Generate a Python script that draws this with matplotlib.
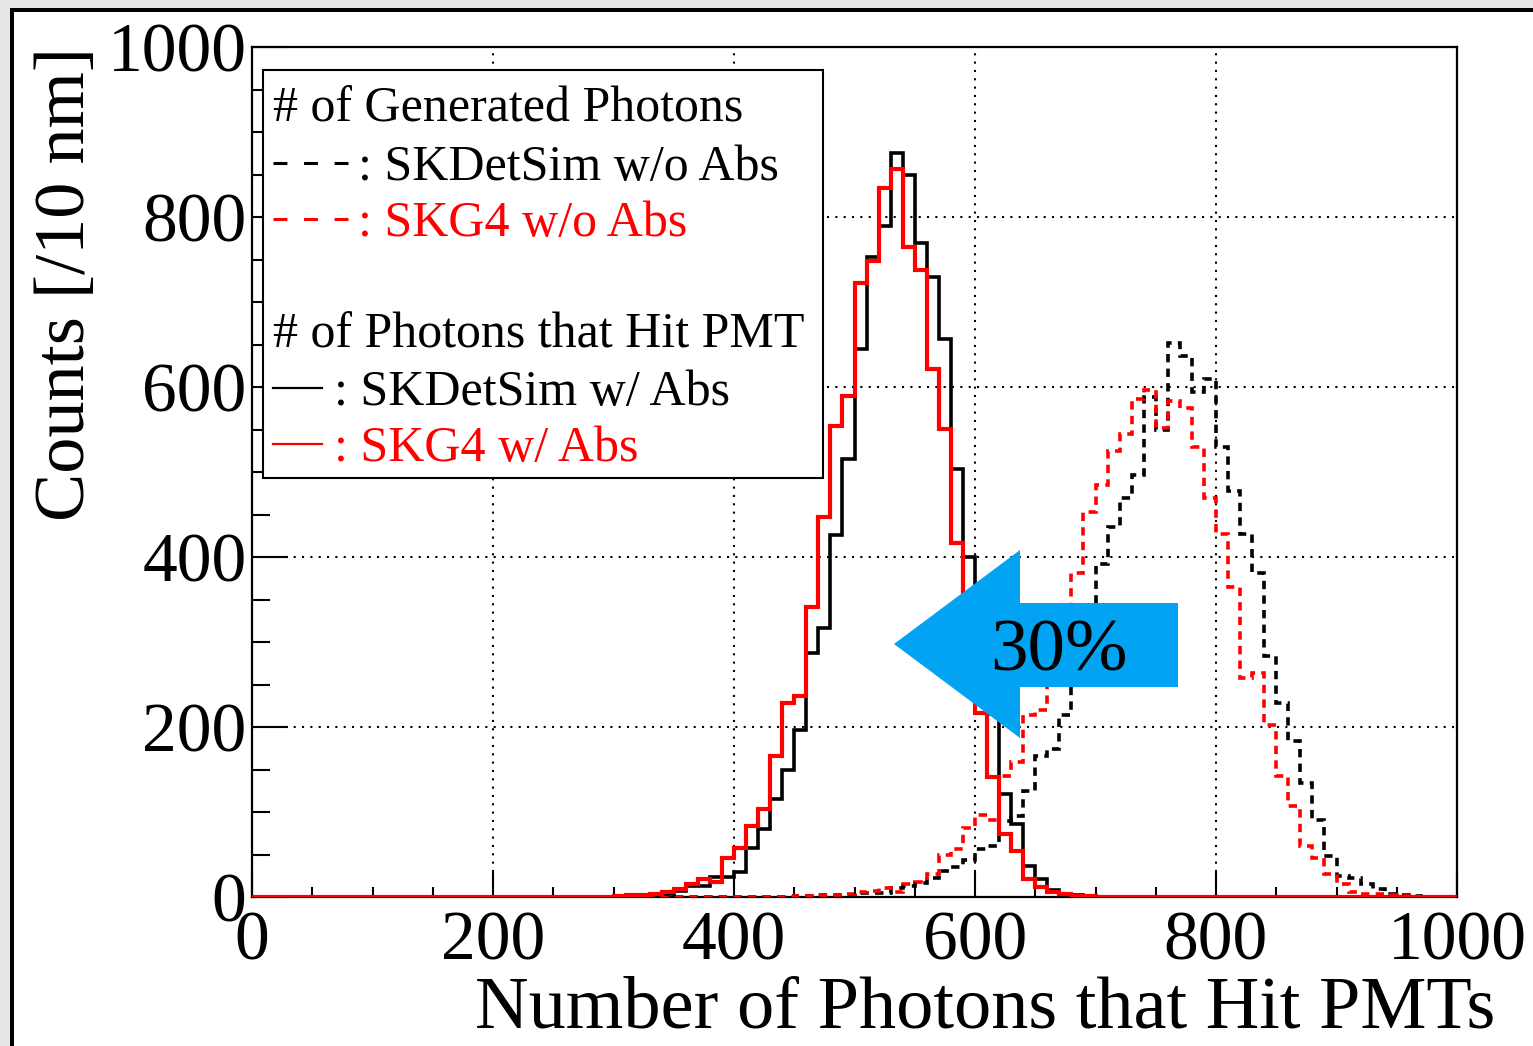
import numpy as np
import matplotlib
matplotlib.use("Agg")
import matplotlib.pyplot as plt
from matplotlib.patches import Rectangle, Polygon
from matplotlib.lines import Line2D

plt.rcParams['font.family'] = ['Liberation Serif', 'DejaVu Serif']
plt.rcParams['lines.scale_dashes'] = False

#### DATA (counts per 10-photon bin, 0..1000) ####
edges = np.arange(0, 1001, 10)

# SKDetSim w/o Abs (generated photons, black dashed)
detsim_noabs = ([0] * 45 +
                [1, 1, 2, 2, 2,
                 5, 5, 5, 11, 13, 17, 22, 31, 35, 43,
                 57, 60, 90, 95, 125, 166, 174, 214, 265, 320,
                 392, 435, 470, 496, 588, 549, 652, 637, 594, 609,
                 529, 478, 427, 381, 283, 228, 183, 134, 91, 48,
                 25, 22, 15, 9, 3, 2, 1] + [0] * 3)

# SKG4 w/o Abs (generated photons, red dashed)
g4_noabs = ([0] * 45 +
            [1, 1, 2, 2, 3,
             6, 7, 11, 6, 15, 18, 27, 49, 57, 81,
             96, 91, 142, 159, 214, 220, 262, 330, 381, 453,
             485, 525, 545, 586, 597, 552, 583, 575, 529, 470,
             427, 365, 258, 263, 202, 142, 107, 60, 46, 27,
             15, 6, 3, 4, 2, 1] + [0] * 4)

# SKDetSim w/ Abs (photons that hit PMT, black solid)
detsim_abs = ([0] * 30 +
              [1, 1, 2, 3, 4, 7, 13, 13, 24, 24,
               29, 58, 80, 115, 150, 197, 287, 316, 426, 515,
               645, 753, 789, 875, 849, 769, 730, 656, 504, 400,
               300, 215, 121, 86, 37, 21, 8, 4, 2, 1] + [0] * 30)

# SKG4 w/ Abs (photons that hit PMT, red solid)
g4_abs = ([0] * 30 +
          [1, 2, 2, 4, 6, 9, 15, 21, 18, 46,
           58, 84, 103, 166, 228, 236, 341, 447, 554, 590,
           722, 748, 834, 857, 765, 738, 621, 551, 416, 300,
           217, 141, 74, 54, 21, 12, 6, 3, 1, 1] + [0] * 30)

xticks = [0, 200, 400, 600, 800, 1000]
yticks = [0, 200, 400, 600, 800, 1000]

#### FIGURE ####
fig = plt.figure(figsize=(15.33, 10.46), dpi=100)
W, H = 1533.0, 1046.0

# screenshot frame: grey margin + black border on top/left
fig.add_artist(Rectangle((0, 1 - 8 / H), 1, 8 / H, transform=fig.transFigure,
                         facecolor='#e6e6e6', edgecolor='none', zorder=0))
fig.add_artist(Rectangle((0, 0), 10 / W, 1, transform=fig.transFigure,
                         facecolor='#e6e6e6', edgecolor='none', zorder=0))
fig.add_artist(Rectangle((10 / W, 1 - 12 / H), 1, 4 / H, transform=fig.transFigure,
                         facecolor='black', edgecolor='none', zorder=1))
fig.add_artist(Rectangle((10 / W, 0), 4 / W, 1 - 8 / H, transform=fig.transFigure,
                         facecolor='black', edgecolor='none', zorder=1))

ax = fig.add_axes([252 / W, 1 - 897 / H, 1205 / W, 850 / H])

ax.stairs(detsim_noabs, edges, color='black', lw=2.6, linestyle=(0, (6, 4.5)), zorder=3)
ax.stairs(g4_noabs, edges, color='#ff0000', lw=2.6, linestyle=(0, (6, 4.5)), zorder=3.1)
ax.stairs(detsim_abs, edges, color='black', lw=2.6, zorder=4)
ax.stairs(g4_abs, edges, color='#ff0000', lw=3.0, zorder=5)

ax.set_xlim(0, 1000)
ax.set_ylim(0, 1000)
ax.set_xticks(xticks)
ax.set_xticklabels([str(t) for t in xticks])
ax.set_xticks(range(0, 1001, 50), minor=True)
ax.set_yticks(yticks)
ax.set_yticklabels([str(t) for t in yticks])
ax.set_yticks(range(0, 1001, 50), minor=True)

ax.tick_params(which='both', direction='in', top=False, right=False, width=1.5)
ax.tick_params(axis='x', which='major', length=18, labelsize=50, pad=10)
ax.tick_params(axis='x', which='minor', length=7)
ax.tick_params(axis='y', which='major', length=26, labelsize=50, pad=4)
ax.tick_params(axis='y', which='minor', length=13)
ax.grid(True, which='major', color='black', lw=1.5, linestyle=(0, (1.5, 4.5)), zorder=1)
ax.set_axisbelow(True)
for s in ax.spines.values():
    s.set_linewidth(1.6)
    s.set_zorder(2.5)

# axis titles (ROOT style, right aligned)
ax.text(1.0315, (897 - 1027) / 850.0, 'Number of Photons that Hit PMTs',
        transform=ax.transAxes, ha='right', va='baseline', fontsize=53.5)
ax.text(-0.154, 1.0, 'Counts [/10 nm]', transform=ax.transAxes,
        rotation=90, ha='center', va='top', fontsize=52)

# legend box
def fx(px):
    return (px - 252) / 1205.0

def fy(py):
    return (897 - py) / 850.0

ax.add_patch(Rectangle((fx(263), fy(478)), fx(823) - fx(263), fy(70) - fy(478),
                       transform=ax.transAxes, facecolor='white', edgecolor='black',
                       lw=1.5, zorder=8))
leg_fs = 36
ax.text(fx(273), fy(122), '# of Generated Photons', transform=ax.transAxes,
        fontsize=leg_fs, va='baseline', zorder=9)
ax.add_line(Line2D([fx(273), fx(350)], [fy(163), fy(163)], transform=ax.transAxes,
                   color='black', lw=2.2, linestyle=(0, (10, 12)), zorder=9))
ax.text(fx(358), fy(180), ': SKDetSim w/o Abs', transform=ax.transAxes,
        fontsize=leg_fs, va='baseline', zorder=9)
ax.add_line(Line2D([fx(273), fx(350)], [fy(219), fy(219)], transform=ax.transAxes,
                   color='#ff0000', lw=2.2, linestyle=(0, (10, 12)), zorder=9))
ax.text(fx(358), fy(236), ': SKG4 w/o Abs', transform=ax.transAxes,
        fontsize=leg_fs, va='baseline', color='#ff0000', zorder=9)
ax.text(fx(273), fy(348), '# of Photons that Hit PMT', transform=ax.transAxes,
        fontsize=leg_fs, va='baseline', zorder=9)
ax.add_line(Line2D([fx(273), fx(322)], [fy(388), fy(388)], transform=ax.transAxes,
                   color='black', lw=1.6, zorder=9))
ax.text(fx(334), fy(405), ': SKDetSim w/ Abs', transform=ax.transAxes,
        fontsize=leg_fs, va='baseline', zorder=9)
ax.add_line(Line2D([fx(273), fx(322)], [fy(444), fy(444)], transform=ax.transAxes,
                   color='#ff0000', lw=1.6, zorder=9))
ax.text(fx(334), fy(461), ': SKG4 w/ Abs', transform=ax.transAxes,
        fontsize=leg_fs, va='baseline', color='#ff0000', zorder=9)

# 30% arrow annotation
arrow = [(fx(894), fy(644)), (fx(1020), fy(550)), (fx(1020), fy(603)),
         (fx(1178), fy(603)), (fx(1178), fy(687)), (fx(1020), fy(687)),
         (fx(1020), fy(738))]
ax.add_patch(Polygon(arrow, closed=True, transform=ax.transAxes,
                     facecolor='#02a3f2', edgecolor='none', zorder=10))
ax.text(fx(1059), fy(670), '30%', transform=ax.transAxes, ha='center',
        va='baseline', fontsize=54, zorder=11)

fig.savefig('out.png', dpi=100)
